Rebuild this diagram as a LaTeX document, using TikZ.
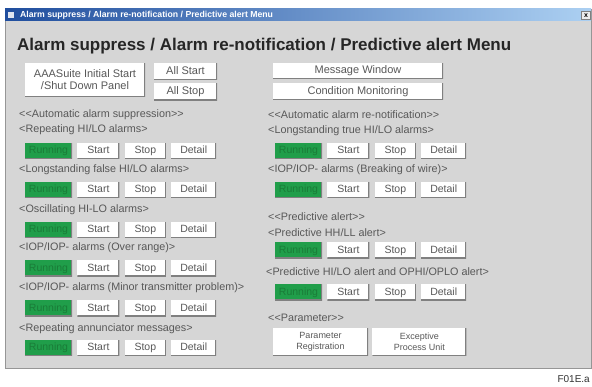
\documentclass[tikz,border=0pt]{standalone}
\usepackage{fontspec}
\setmainfont{Liberation Sans}
\usepackage{tikz}
\usetikzlibrary{positioning}

\definecolor{winbg}{RGB}{214,214,214}
\definecolor{winedge}{RGB}{150,150,150}
\definecolor{runfill}{RGB}{32,158,74}
\definecolor{runtext}{RGB}{26,124,56}
\definecolor{bardark}{RGB}{32,78,158}
\definecolor{barlight}{RGB}{172,208,242}
\definecolor{txt}{RGB}{88,88,88}
\definecolor{btnshade}{RGB}{128,128,128}

\tikzset{
  btn/.style={fill=white, inner sep=0pt, minimum height=16pt, text=txt,
    text height=7.6pt, text depth=2.1pt,
    font=\fontsize{10.5}{11}\selectfont, align=center,
    path picture={\draw[btnshade, line width=2.6pt]
      (path picture bounding box.north east) -- (path picture bounding box.south east)
      -- (path picture bounding box.south west);}},
  twoline/.style={text height=, text depth=},
  topbtn/.style={btn, font=\fontsize{11}{12}\selectfont},
  run/.style={btn, fill=runfill, text=runtext, minimum width=47pt},
  lbl/.style={anchor=west, inner sep=0pt, text=txt, font=\fontsize{10.8}{12}\selectfont},
}

% one row of Running / Start / Stop / Detail buttons
\newcommand{\ctlrow}[3]{%
  \node[run] (#1run) at (#2,#3) {Running};
  \node[btn, minimum width=42pt, right=5pt of #1run] (#1start) {Start};
  \node[btn, minimum width=41pt, right=5pt of #1start] (#1stop) {Stop};
  \node[btn, minimum width=45pt, right=5pt of #1stop] (#1detail) {Detail};
}

\begin{document}
\begin{tikzpicture}[x=1pt,y=-1pt]
    \useasboundingbox (0,0) rectangle (592,387);
    \fill[white] (0,0) rectangle (592,387);
    % window
    \draw[fill=winbg, draw=winedge] (5,9) rectangle (591,368);
    \shade[left color=bardark, right color=barlight] (5,9) rectangle (591,21);
    \fill[white!85!bardark] (8,12) rectangle (14,18);
    \node[anchor=west, inner sep=0pt, text=white, font=\bfseries\fontsize{8.7}{9}\selectfont] (bartitle) at (20,15) {Alarm suppress / Alarm re-notification / Predictive alert Menu};
    \node[draw=btnshade, fill=white!85!gray, minimum width=9pt, minimum height=8pt, inner sep=0pt, font=\bfseries\fontsize{7}{7}\selectfont] (close) at (586,15.5) {x};
    \node[anchor=base west, inner sep=0pt, text=black!85, font=\bfseries\fontsize{17}{18}\selectfont] (title) at (17,51) {Alarm suppress / Alarm re-notification / Predictive alert Menu};

    % top buttons
    \node[topbtn, twoline, minimum width=120pt, minimum height=34pt] (aaa) at (85,80) {AAASuite Initial Start\\/Shut Down Panel};
    \node[topbtn, minimum width=63pt, minimum height=17pt] (allstart) at (185.5,71.5) {All Start};
    \node[topbtn, minimum width=63pt, minimum height=17pt, below=3pt of allstart] (allstop) {All Stop};
    \node[topbtn, minimum width=170pt, minimum height=16pt] (msgwin) at (358,71) {Message Window};
    \node[topbtn, minimum width=170pt, minimum height=17pt] (condmon) at (358,91.5) {Condition Monitoring};

    % automatic alarm suppression
    \node[lbl] (supp) at (19,115) {<{}<Automatic alarm suppression>{}>};
    \node[lbl] (lab1) at (19,130) {<Repeating HI/LO alarms>};
    \ctlrow{rep}{48.5}{151}
    \node[lbl] (lab2) at (19,170) {<Longstanding false HI/LO alarms>};
    \ctlrow{lsf}{48.5}{190}
    \node[lbl] (lab3) at (19,210) {<Oscillating HI-LO alarms>};
    \ctlrow{osc}{48.5}{230}
    \node[lbl] (lab4) at (19,248) {<IOP/IOP- alarms (Over range)>};
    \ctlrow{ovr}{48.5}{268.5}
    \node[lbl] (lab5) at (19,288) {<IOP/IOP- alarms (Minor transmitter problem)>};
    \ctlrow{mtp}{48.5}{308.5}
    \node[lbl] (lab6) at (19,329) {<Repeating annunciator messages>};
    \ctlrow{ann}{48.5}{348}

    % automatic alarm re-notification
    \node[lbl] (renot) at (268,115) {<{}<Automatic alarm re-notification>{}>};
    \node[lbl] (lab7) at (268,131) {<Longstanding true HI/LO alarms>};
    \ctlrow{lst}{298.5}{151}
    \node[lbl] (lab8) at (268,170) {<IOP/IOP- alarms (Breaking of wire)>};
    \ctlrow{brk}{298.5}{190}

    % predictive alert
    \node[lbl] (pred) at (268,217) {<{}<Predictive alert>{}>};
    \node[lbl] (lab9) at (268,233) {<Predictive HH/LL alert>};
    \ctlrow{phl}{298.5}{250.5}
    \node[lbl] (lab10) at (266,272) {<Predictive HI/LO alert and OPHI/OPLO alert>};
    \ctlrow{pop}{298.5}{292.5}

    % parameter
    \node[lbl] (param) at (268,318) {<{}<Parameter>{}>};
    \node[btn, twoline, minimum width=95pt, minimum height=28pt, font=\fontsize{9}{11}\selectfont] (preg) at (320.5,342) {Parameter\\Registration};
    \node[btn, twoline, minimum width=94pt, minimum height=28pt, font=\fontsize{9}{11}\selectfont, right=4pt of preg] (epu) {Exceptive\\Process Unit};

    \node[anchor=base east, inner sep=0pt, text=black!80, font=\fontsize{10}{12}\selectfont] (fig) at (590,382) {F01E.a};
\end{tikzpicture}
\end{document}
